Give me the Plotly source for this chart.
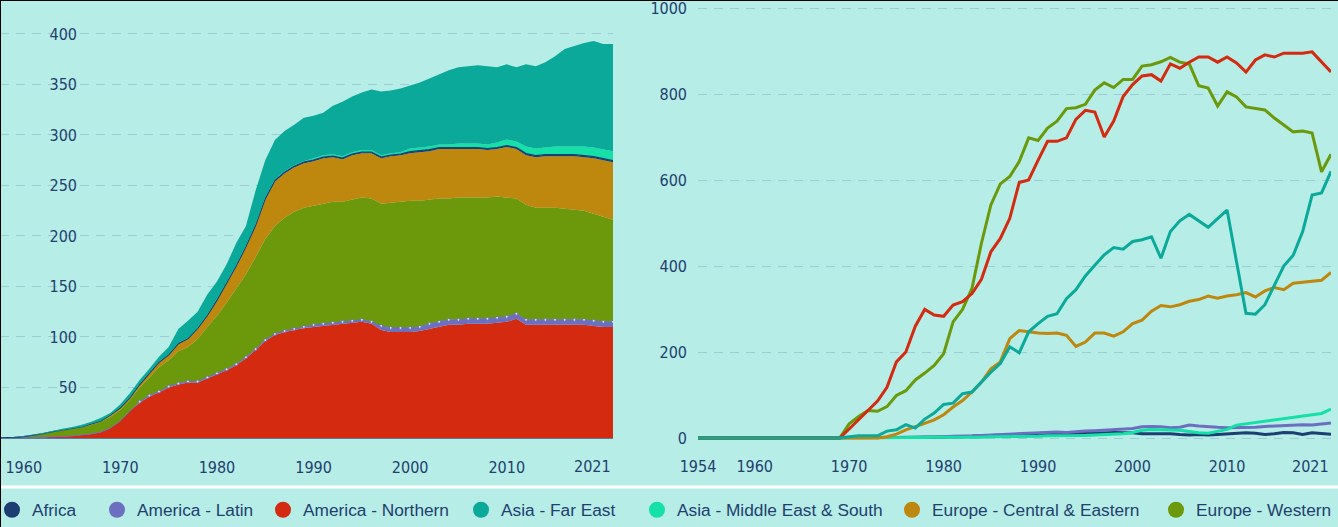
import plotly.graph_objects as go

# ---------------- data ----------------
years = list(range(1954, 2022))

series_names = ["Africa", "America - Latin", "America - Northern", "Asia - Far East",
                "Asia - Middle East & South", "Europe - Central & Eastern", "Europe - Western"]
series_colors = ["#1d3e72", "#6c6fc0", "#d32a10", "#0aa99a", "#14e0a8", "#be870e", "#6b990b"]

# Left panel (stacked area)
left_north = [0, 0, 0, 0, 0, 0,
              0.3, 0.5, 0.8, 1, 1.5, 2, 3, 4, 6, 10,
              17, 27, 35, 41, 45, 50, 53, 55, 55, 59,
              63, 67, 72, 79, 87, 96, 102, 105, 107, 109,
              110, 111, 112, 113, 114, 115, 113, 107, 105, 105,
              105, 106, 108, 110, 112, 112, 113, 113, 113, 114,
              115, 118, 112, 112, 112, 112, 112, 112, 112, 111,
              110, 110]
left_latin = [0, 0, 0, 0, 0, 0,
              0, 0, 0, 0, 0, 0, 0, 0, 0, 0,
              0, 0, 1, 1, 1, 1, 1, 1, 1, 1,
              1, 1, 1, 1, 1, 1, 1, 1, 1, 1,
              2, 2, 2, 2, 2, 2, 2, 4, 4, 4,
              4, 4, 5, 5, 5, 5, 5, 5, 5, 5,
              5, 5, 5, 5, 5, 5, 5, 5, 5, 5,
              5, 5]
left_west = [0, 0, 0, 0, 0, 0.5,
             0.9, 2, 3.2, 5, 6, 7, 7.5, 9, 10, 11,
             11, 11, 14, 18, 24, 26, 32, 34, 42, 50,
             57, 66, 75, 82, 91, 100, 107, 112, 116, 118,
             118, 119, 120, 119, 120, 121, 122, 121, 124, 125,
             126, 125, 123, 122, 120, 121, 120, 120, 120, 120,
             118, 114, 114, 111, 111, 111, 110, 109, 108, 106,
             104, 101]
left_ce = [0, 0, 0, 0, 0, 0,
           0.2, 0.2, 0.3, 0.3, 0.4, 0.5, 0.5, 1, 1, 2,
           2, 2, 3, 4, 5, 5, 7, 8, 10, 11,
           15, 19, 22, 27, 31, 39, 44, 44, 44, 44,
           44, 45, 44, 42, 44, 44, 45, 45, 46, 46,
           47, 48, 48, 49, 49, 48, 48, 48, 47, 47,
           50, 49, 49, 50, 51, 51, 52, 53, 53, 55,
           56, 57]
left_africa = [0, 0, 0, 0, 0, 0,
               0, 0, 0, 0, 0, 0, 0, 0, 0, 0,
               0, 0, 0, 0, 0, 0.5, 0.5, 0.5, 0.5, 0.5,
               0.5, 0.5, 0.5, 0.5, 0.5, 1, 1, 1, 1, 1,
               1, 1, 1, 1, 1, 1, 1, 1, 1, 1,
               1.5, 1.5, 1.5, 1.5, 1.5, 1.5, 1.5, 1.5, 1.5, 1.5,
               1.5, 1.5, 1.5, 1.5, 1.5, 1.5, 1.5, 1.5, 1.5, 1.5,
               1.5, 1.5]
left_mes = [0, 0, 0, 0, 0, 0,
            0, 0, 0, 0, 0, 0, 0, 0, 0, 0,
            0.5, 0.5, 0.5, 0.5, 0.5, 0.5, 0.5, 0.5, 0.5, 0.5,
            1, 1, 1, 1, 1, 1, 1, 1, 1, 1,
            2, 2, 2, 2, 2, 2, 2, 2, 2, 2,
            3, 3, 3, 3, 3, 4, 4, 4, 4, 5,
            6, 6, 7, 7, 7, 8, 8, 8, 9, 9,
            9.5, 9.5]
left_fe = [0, 0, 0, 0, 0, 0.3,
           0.5, 0.5, 0.7, 1, 1.2, 1.5, 2, 2, 3, 2,
           3, 4, 4, 4, 5, 7, 14, 17, 16, 20,
           17.5, 17.5, 21.5, 19.5, 33.5, 37, 39, 40, 40, 43,
           42, 42, 48, 54, 55, 57, 60, 63, 62, 63,
           62.5, 64.5, 67.5, 69.5, 73.5, 75.5, 76.5, 77.5, 77.5, 74.5,
           74.5, 73.5, 81.5, 81.5, 84.5, 89.5, 96.5, 99.5, 102.5, 105.5,
           104, 106]

# Right panel (lines)
right_africa = [0] * 16 + [
    0, 0, 1, 1, 1, 1, 1, 1, 2, 2,
    2, 3, 3, 4, 6, 6, 7, 7, 9, 9,
    10, 10, 11, 10, 11, 12, 11, 12, 13, 12,
    12, 10, 10, 11, 10, 8, 7, 8, 7, 8,
    9, 10, 12, 11, 8, 10, 13, 12, 8, 12,
    10, 9]
right_latin = [0] * 16 + [
    0, 0, 0, 1, 1, 1, 2, 2, 2, 3,
    3, 4, 4, 5, 6, 7, 8, 9, 10, 11,
    12, 12, 14, 13, 15, 16, 17, 18, 19, 20,
    22, 26, 27, 26, 24, 25, 30, 28, 26, 25,
    24, 24, 24, 25, 27, 28, 30, 30, 31, 30,
    32, 35]
right_north = [0] * 16 + [
    21, 42, 64, 86, 118, 177, 200, 260, 299, 286,
    283, 309, 317, 336, 369, 433, 464, 511, 594, 600,
    646, 690, 690, 698, 741, 762, 758, 700, 737, 794,
    822, 842, 845, 830, 870, 860, 874, 886, 886, 874,
    886, 872, 851, 879, 891, 886, 895, 895, 895, 898,
    874, 851]
right_fe = [0] * 16 + [
    3, 5, 5, 5, 16, 19, 31, 23, 44, 58,
    78, 81, 103, 107, 130, 153, 173, 212, 198, 247,
    266, 283, 289, 324, 345, 377, 402, 426, 443, 439,
    457, 461, 468, 418, 480, 505, 520, 505, 490, 510,
    530, 410, 290, 288, 310, 355, 400, 425, 480, 565,
    570, 620]
right_mes = [0] * 16 + [
    1, 1, 1, 1, 1, 1, 1, 2, 1, 2,
    2, 2, 1, 2, 2, 3, 3, 4, 3, 4,
    4, 5, 5, 6, 5, 6, 7, 8, 9, 10,
    13, 18, 20, 19, 19, 18, 15, 12, 11, 15,
    20, 30, 33, 35, 38, 42, 45, 48, 51, 54,
    57, 67]
right_ce = [0] * 16 + [
    0, 0, 0, 0, 3, 9, 19, 26, 34, 42,
    54, 72, 87, 107, 130, 161, 177, 231, 250, 247,
    244, 243, 244, 239, 213, 223, 244, 244, 237, 247,
    266, 274, 295, 308, 305, 310, 318, 322, 330, 325,
    330, 333, 338, 328, 342, 350, 345, 360, 362, 365,
    367, 385]
right_west = [0] * 16 + [
    33, 50, 64, 62, 73, 99, 110, 135, 151, 169,
    196, 270, 299, 348, 453, 542, 591, 608, 643, 698,
    692, 721, 737, 766, 768, 776, 809, 826, 815, 834,
    834, 865, 868, 875, 885, 874, 870, 819, 814, 772,
    805, 793, 770, 766, 763, 744, 728, 712, 714, 709,
    619, 660]

left_xticks = [1960, 1970, 1980, 1990, 2000, 2010, 2021]
right_xticks = [1954, 1960, 1970, 1980, 1990, 2000, 2010, 2021]
left_yticks = [50, 100, 150, 200, 250, 300, 350, 400]
right_yticks = [0, 200, 400, 600, 800, 1000]

# ---------------- styling / layout ----------------
BG = "#b7ede7"
TXT = "#22406e"
GRID = "#9ccdd6"
TICK_FONT = dict(family="Liberation Sans Narrow, Arial Narrow, DejaVu Sans Condensed, sans-serif",
                 size=16, color=TXT)
LEG_FONT = dict(family="Liberation Sans, Arial, sans-serif", size=17.3, color=TXT)
color_of = dict(zip(series_names, series_colors))
# horizontal pixel position of each legend entry's marker
legend_marker_px = [12, 117, 283, 481, 657, 912, 1176]

H = 527.0
W = 1338.0

fig = go.Figure()

# left stacked areas (bottom to top)
left_stack = [("America - Northern", left_north), ("America - Latin", left_latin),
              ("Europe - Western", left_west), ("Europe - Central & Eastern", left_ce),
              ("Africa", left_africa), ("Asia - Middle East & South", left_mes),
              ("Asia - Far East", left_fe)]
for name, vals in left_stack:
    c = color_of[name]
    kw = dict(mode="lines", line=dict(width=0, color=c))
    if name == "Africa":
        kw["line"] = dict(width=1.3, color=c)
    if name == "America - Latin":
        kw = dict(mode="lines+markers", line=dict(width=1, color=c),
                  marker=dict(color="white", size=[3 if v > 0 else 0 for v in vals]))
    fig.add_trace(go.Scatter(x=years, y=vals, stackgroup="left", fillcolor=c,
                             name=name, showlegend=False, hoverinfo="skip",
                             xaxis="x", yaxis="y", **kw))

# right lines
right_draw = [("Africa", right_africa), ("America - Latin", right_latin),
              ("Asia - Middle East & South", right_mes), ("Europe - Central & Eastern", right_ce),
              ("Europe - Western", right_west), ("America - Northern", right_north),
              ("Asia - Far East", right_fe)]
for name, vals in right_draw:
    fig.add_trace(go.Scatter(x=years, y=vals, mode="lines", name=name,
                             line=dict(width=3, color=color_of[name]),
                             showlegend=False, hoverinfo="skip", xaxis="x2", yaxis="y2"))

# legend entries (one legend box per entry so spacing follows the reference)
legend_layouts = {}
for i, (name, c) in enumerate(zip(series_names, series_colors)):
    key = "legend" if i == 0 else "legend%d" % (i + 1)
    fig.add_trace(go.Scatter(x=[None], y=[None], mode="markers", name=name, legend=key,
                             marker=dict(size=20, color=c), xaxis="x2", yaxis="y2"))
    legend_layouts[key] = dict(orientation="h", x=(legend_marker_px[i] - 12) / W, xanchor="left",
                               y=1 - 510 / H, yanchor="middle", indentation=-8,
                               font=LEG_FONT, bgcolor="rgba(0,0,0,0)", borderwidth=0)

axis_common = dict(showgrid=False, zeroline=False, ticks="", tickfont=TICK_FONT,
                   fixedrange=True, automargin=False)

fig.update_layout(
    template="none",
    width=1338, height=527,
    margin=dict(l=0, r=0, t=0, b=0, pad=0, autoexpand=False),
    paper_bgcolor=BG, plot_bgcolor=BG,
    showlegend=True,
    xaxis=dict(domain=[0, 613 / W], range=[1957.54, 2021], tickvals=left_xticks[:-1],
               showline=True, linecolor="#5d7f94", linewidth=1,
               ticklabelstandoff=15, **axis_common),
    yaxis=dict(domain=[1 - 438 / H, 1 - 8 / H], range=[0, 425.7], tickvals=left_yticks,
               anchor="free", position=77 / W, ticklabelstandoff=0,
               showgrid=True, gridcolor=GRID, gridwidth=1, griddash="9px,7px",
               zeroline=False, showline=False, ticks="", tickfont=TICK_FONT,
               fixedrange=True, automargin=False),
    xaxis2=dict(domain=[698 / W, 1331 / W], range=[1954, 2021], tickvals=right_xticks[:-1],
                anchor="y2", ticklabelstandoff=7, showline=False, **axis_common),
    yaxis2=dict(domain=[1 - 448 / H, 1 - 6 / H], range=[-23.26, 1004.65], tickvals=right_yticks,
                anchor="x2", ticklabelstandoff=10, showline=False, ticklabeloverflow="allow",
                showgrid=True, gridcolor=GRID, gridwidth=1, griddash="9px,7px",
                zeroline=False, ticks="", tickfont=TICK_FONT, fixedrange=True,
                automargin=False),
    annotations=[
        dict(x=left_xticks[-1], xref="x", xanchor="right", y=1 - 466 / H, yref="paper",
             yanchor="middle", text=str(left_xticks[-1]), showarrow=False, font=TICK_FONT),
        dict(x=right_xticks[-1], xref="x2", xanchor="right", y=1 - 466 / H, yref="paper",
             yanchor="middle", text=str(right_xticks[-1]), showarrow=False, font=TICK_FONT),
    ],
    shapes=[
        dict(type="line", xref="paper", yref="paper", x0=0, x1=1, y0=1 - 487 / H, y1=1 - 487 / H,
             line=dict(color="white", width=3)),
        dict(type="line", xref="paper", yref="paper", x0=0, x1=1, y0=1, y1=1,
             line=dict(color="black", width=2)),
        dict(type="line", xref="paper", yref="paper", x0=0, x1=0, y0=0, y1=1,
             line=dict(color="black", width=2)),
    ],
    **legend_layouts,
)

fig.write_html("out.html",
               config={"displayModeBar": False},
               post_script="document.body.style.margin='0';"
                           "document.body.style.background='" + BG + "';")
